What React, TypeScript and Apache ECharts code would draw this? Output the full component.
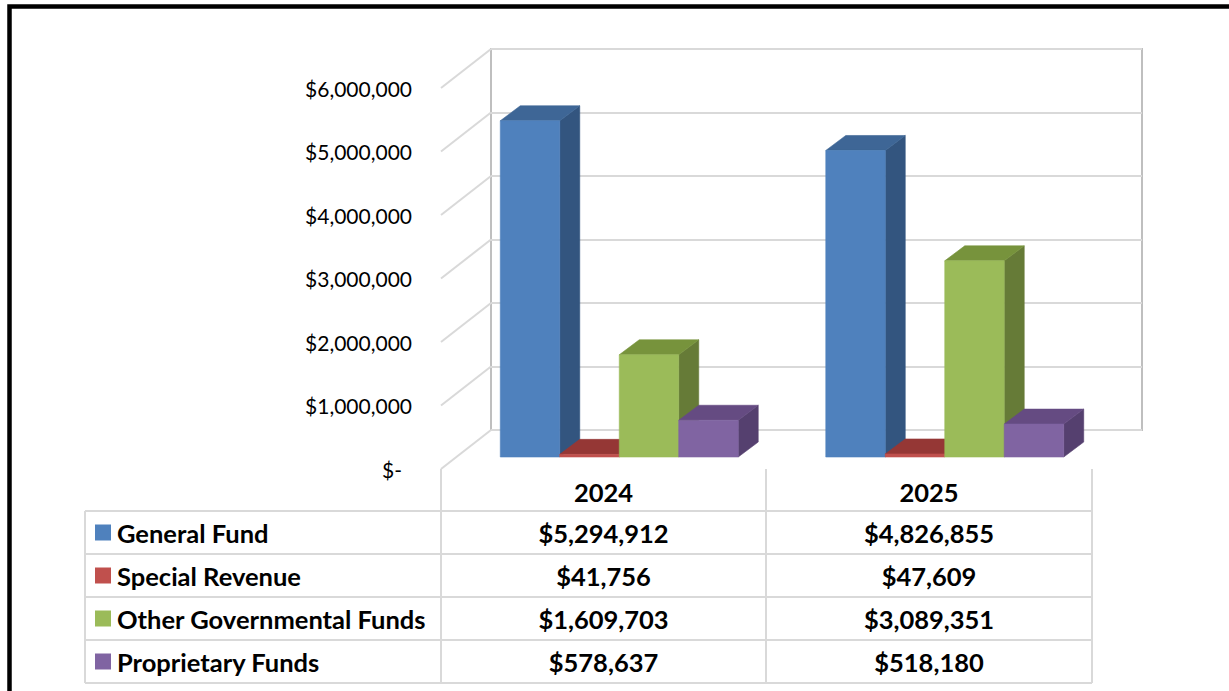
import React, { useEffect, useRef } from 'react';
import * as echarts from 'echarts';

// ---- data ----
const YEARS = ['2024', '2025'];
const FUNDS = ['General Fund', 'Special Revenue', 'Other Governmental Funds', 'Proprietary Funds'];
const GENERAL_FUND = [5294912, 4826855];
const SPECIAL_REVENUE = [41756, 47609];
const OTHER_GOVERNMENTAL = [1609703, 3089351];
const PROPRIETARY = [578637, 518180];
const SERIES = [GENERAL_FUND, SPECIAL_REVENUE, OTHER_GOVERNMENTAL, PROPRIETARY];
const Y_TICKS = [0, 1000000, 2000000, 3000000, 4000000, 5000000, 6000000];
const Y_MIN = 0;
const Y_MAX = 6000000;
const Y_STEP = 1000000;

// ---- styles ----
const FRONT = ['#4F81BD', '#C0504D', '#9BBB59', '#8064A2'];
const TOP = ['#3E6696', '#953735', '#77933C', '#654B82'];
const SIDE = ['#33557F', '#7E2E2C', '#667B37', '#55406F'];
const GRID_LINE = '#d9d9d9';
const FONT = "Lato, 'Open Sans', sans-serif";

// ---- layout ----
const W = 1229;
const H = 691;
const PLOT_H = 381;
const PLOT_W = 651;
const FRONT_WALL = { left: 441, bottom: 469 };
const BACK_WALL = { left: 491, bottom: 430 };
const BAR_PLANE = { left: 456.5, bottom: 457 };
const BAR_DEPTH = { dx: 20, dy: -15 };
const BAR_GAP = 0.269;
const TABLE = { left: 85, cols: [441, 766, 1092], headerTop: 469, top: 511, rowH: 43 };

const fmtMoney = (v: number) => '$' + Math.round(v).toLocaleString('en-US');

function buildOption() {
  const grids = [
    { left: BACK_WALL.left, top: BACK_WALL.bottom - PLOT_H, width: PLOT_W, height: PLOT_H, show: true, borderColor: '#bfbfbf', borderWidth: 2, backgroundColor: 'transparent' },
    { left: FRONT_WALL.left, top: FRONT_WALL.bottom - PLOT_H, width: PLOT_W, height: PLOT_H },
    { left: BAR_PLANE.left, top: BAR_PLANE.bottom - PLOT_H, width: PLOT_W, height: PLOT_H },
  ];
  const hiddenCat = (gridIndex: number) => ({
    type: 'category', gridIndex, data: YEARS, show: false, boundaryGap: true,
  });
  const xAxis = [
    hiddenCat(0),
    { type: 'value', gridIndex: 1, min: 0, max: 1, show: false },
    hiddenCat(2),
  ];
  const yAxis = [
    {
      type: 'value', gridIndex: 0, min: Y_MIN, max: Y_MAX, interval: Y_STEP,
      axisLine: { show: false }, axisTick: { show: false }, axisLabel: { show: false },
      splitLine: { show: true, lineStyle: { color: GRID_LINE, width: 2 } },
    },
    {
      type: 'value', gridIndex: 1, min: Y_MIN, max: Y_MAX, interval: Y_STEP,
      axisLine: { show: false }, axisTick: { show: false }, splitLine: { show: false },
      axisLabel: {
        show: true, margin: 29, color: '#000', fontFamily: FONT, fontSize: 21,
        showMinLabel: true, showMaxLabel: true,
        formatter: (v: number) => (v === 0 ? '{z|$-}' : fmtMoney(v)),
        rich: { z: { color: '#000', fontFamily: FONT, fontSize: 21, padding: [0, 10, 0, 0] } },
      },
    },
    {
      type: 'value', gridIndex: 2, min: Y_MIN, max: Y_MAX, interval: Y_STEP, show: false,
      splitLine: { show: false },
    },
  ];

  const wallDx = BACK_WALL.left - FRONT_WALL.left;
  const wallDy = BACK_WALL.bottom - FRONT_WALL.bottom;

  const sideWall = {
    type: 'custom', name: 'sideWall', silent: true,
    coordinateSystem: 'cartesian2d', xAxisIndex: 1, yAxisIndex: 1,
    data: Y_TICKS.map((v) => [0, v]),
    encode: { x: 0, y: 1 },
    z: 1,
    renderItem: (params: any, api: any) => {
      const p = api.coord([0, api.value(1)]);
      return {
        type: 'line',
        shape: { x1: p[0], y1: p[1], x2: p[0] + wallDx, y2: p[1] + wallDy },
        style: { stroke: GRID_LINE, lineWidth: 2 },
      };
    },
  };

  const bars = SERIES.map((values, i) => ({
    type: 'custom', name: FUNDS[i],
    coordinateSystem: 'cartesian2d', xAxisIndex: 2, yAxisIndex: 2,
    data: values.map((v, k) => [k, v]),
    encode: { x: 0, y: 1 },
    z: 3 + i,
    renderItem: (params: any, api: any) => {
      const cat = api.value(0);
      const val = api.value(1);
      const top = api.coord([cat, val]);
      const base = api.coord([cat, 0]);
      const band = api.size([1, 0])[0];
      const groupW = band * (1 - BAR_GAP);
      const w = groupW / SERIES.length;
      const x0 = top[0] - groupW / 2 + i * w;
      const x1 = x0 + w;
      const yt = top[1];
      const yb = base[1];
      const { dx, dy } = BAR_DEPTH;
      return {
        type: 'group',
        children: [
          {
            type: 'polygon',
            shape: { points: [[x1, yb], [x1 + dx, yb + dy], [x1 + dx, yt + dy], [x1, yt]] },
            style: { fill: SIDE[i], stroke: SIDE[i], lineWidth: 0.6 },
          },
          {
            type: 'polygon',
            shape: { points: [[x0, yt], [x0 + dx, yt + dy], [x1 + dx, yt + dy], [x1, yt]] },
            style: { fill: TOP[i], stroke: TOP[i], lineWidth: 0.6 },
          },
          {
            type: 'rect',
            shape: { x: x0, y: yt, width: w, height: yb - yt },
            style: { fill: FRONT[i], stroke: FRONT[i], lineWidth: 0.6 },
          },
        ],
      };
    },
  }));

  // ---- data table ----
  const graphics: any[] = [];
  const lineStyle = { stroke: GRID_LINE, lineWidth: 2 };
  const [c0, c1, c2] = TABLE.cols;
  const nRows = FUNDS.length;
  const tableBottom = TABLE.top + nRows * TABLE.rowH;
  for (let r = 0; r <= nRows; r++) {
    const y = TABLE.top + r * TABLE.rowH;
    graphics.push({ type: 'line', shape: { x1: TABLE.left, y1: y, x2: c2, y2: y }, style: lineStyle });
  }
  graphics.push({ type: 'line', shape: { x1: TABLE.left, y1: TABLE.top, x2: TABLE.left, y2: tableBottom }, style: lineStyle });
  [c0, c1, c2].forEach((x) => {
    graphics.push({ type: 'line', shape: { x1: x, y1: TABLE.headerTop, x2: x, y2: tableBottom }, style: lineStyle });
  });
  const colCenters = [(c0 + c1) / 2, (c1 + c2) / 2];
  const boldText = { fill: '#000', fontFamily: FONT, fontWeight: 'bold', fontSize: 25.5, verticalAlign: 'middle' };
  YEARS.forEach((yr, k) => {
    graphics.push({
      type: 'text', x: colCenters[k], y: (TABLE.headerTop + TABLE.top) / 2 + 2,
      style: { ...boldText, text: yr, align: 'center' },
    });
  });
  FUNDS.forEach((name, r) => {
    const cy = TABLE.top + r * TABLE.rowH + TABLE.rowH / 2;
    graphics.push({ type: 'rect', shape: { x: 95, y: cy - 8, width: 16, height: 16 }, style: { fill: FRONT[r] } });
    graphics.push({ type: 'text', x: 117, y: cy, style: { ...boldText, text: name, align: 'left' } });
    SERIES[r].forEach((v, k) => {
      graphics.push({ type: 'text', x: colCenters[k], y: cy, style: { ...boldText, text: fmtMoney(v), align: 'center' } });
    });
  });
  // outer frame
  graphics.push({
    type: 'rect', shape: { x: 9.5, y: 6.5, width: 1400, height: 900 },
    style: { fill: 'none', stroke: '#000', lineWidth: 4.5 }, z: 100,
  });

  return {
    animation: false,
    backgroundColor: '#fff',
    grid: grids,
    xAxis,
    yAxis,
    series: [sideWall, ...bars],
    graphic: { elements: graphics },
  };
}

export default function App() {
  const ref = useRef<HTMLDivElement>(null);
  useEffect(() => {
    if (!ref.current) return;
    const chart = echarts.init(ref.current, undefined, { renderer: 'svg' });
    chart.setOption(buildOption() as any);
    return () => chart.dispose();
  }, []);
  return (
    <div
      ref={ref}
      style={{ position: 'fixed', left: 0, top: 0, width: W, height: H, background: '#fff' }}
    />
  );
}
